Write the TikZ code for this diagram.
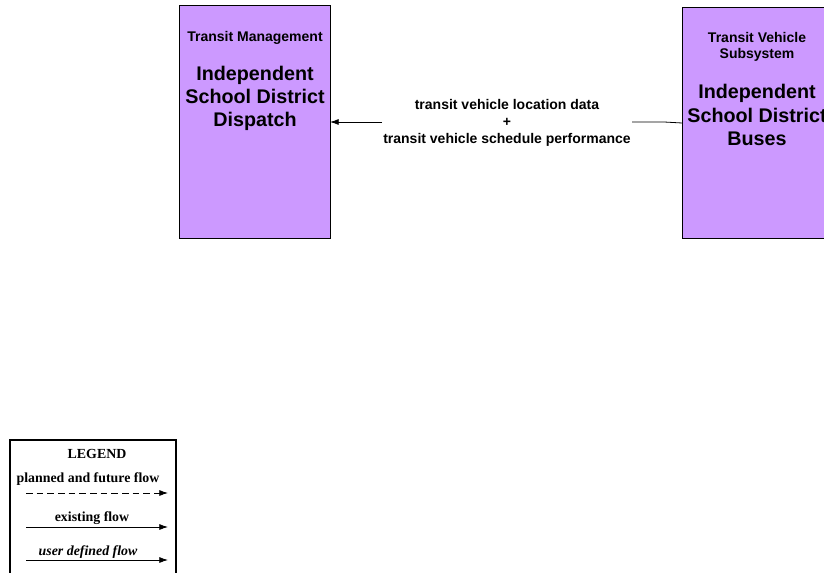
\documentclass[tikz,border=0pt]{standalone}
\usepackage{fontspec}
\setmainfont{Liberation Sans}
\newfontfamily\timesfont{Liberation Serif}
\usetikzlibrary{arrows.meta}
\definecolor{boxfill}{HTML}{CC99FF}
\tikzset{
  sysbox/.style={draw=black, line width=0.6pt, fill=boxfill},
  flowline/.style={line width=0.6pt, -{Latex[length=6.5pt,width=4.5pt]}},
  small/.style={font=\fontsize{10.5pt}{12.8pt}\selectfont\bfseries, align=center, inner sep=0pt},
  big/.style={font=\fontsize{14.8pt}{17.3pt}\selectfont\bfseries, align=center, inner sep=0pt},
  legtext/.style={font=\timesfont\fontsize{10.4pt}{12pt}\selectfont\bfseries, inner sep=0pt},
}
\begin{document}
\begin{tikzpicture}[x=0.75pt,y=-0.75pt]
\useasboundingbox (0,0) rectangle (824,573);
\clip (0,0) rectangle (824,573);
% left box
\draw[sysbox] (179,5) rectangle (330,238);
\coordinate (lin) at (330,122);
\node[small] (ltitle) at (255,38) {Transit Management};
\node[big] (lname) at (255,98) {Independent\\School District\\Dispatch};
% right box
\draw[sysbox] (682,7) rectangle (832,238);
\coordinate (rout) at (682,123);
\coordinate (rbend) at (664,122);
\node[small, font=\fontsize{10.5pt}{12pt}\selectfont\bfseries] (rtitle) at (757,47) {Transit Vehicle\\Subsystem};
\node[big] (rname) at (757,115) {Independent\\School District\\Buses};
% flow label
\node[small] (flowlbl) at (507,123) {transit vehicle location data\\+\\transit vehicle schedule performance};
\coordinate (gapR) at (632,122);
\coordinate (gapL) at (382,122);
\draw[line width=0.6pt] (rout) -- (rbend) -- (gapR);
\draw[flowline] (gapL) -- (lin);
% legend
\draw[line width=0.8pt] (10,600) -- (10,440) -- (176,440) -- (176,600);
\node[legtext] (leg) at (97,454) {LEGEND};
\node[legtext] (lp) at (88,479) {planned and future flow};
\coordinate (pa) at (26,493);
\coordinate (pb) at (168,493);
\draw[flowline, dashed, dash pattern=on 5pt off 3pt] (pa) -- (pb);
\node[legtext] (le) at (92,518) {existing flow};
\coordinate (ea) at (26,527);
\coordinate (eb) at (168,527);
\draw[flowline] (ea) -- (eb);
\node[legtext, font=\timesfont\fontsize{10.4pt}{12pt}\selectfont\bfseries\itshape] (lu) at (88,552) {user defined flow};
\coordinate (ua) at (26,560);
\coordinate (ub) at (168,560);
\draw[flowline] (ua) -- (ub);
\end{tikzpicture}
\end{document}
